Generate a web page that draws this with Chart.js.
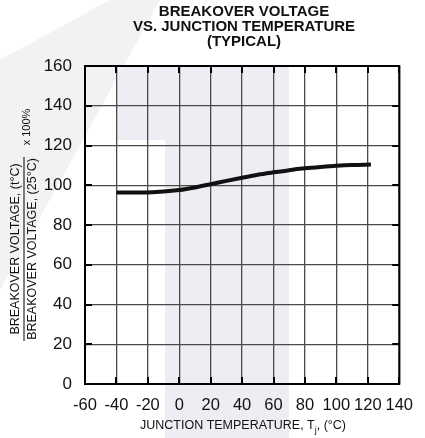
<!DOCTYPE html>
<html>
<head>
<meta charset="utf-8">
<script src="https://cdn.jsdelivr.net/npm/chart.js@4/dist/chart.umd.min.js"></script>
<style>
  html, body { margin: 0; padding: 0; background: #fff; }
  #wrap { width: 425px; height: 438px; position: relative; }
</style>
</head>
<body>
<div id="wrap"><canvas id="chart" width="425" height="438"></canvas></div>
<script>
// data
const temps = [-40, -30, -20, -10, 0, 10, 20, 30, 40, 50, 60, 70, 80, 90, 100, 110, 122];
const ratio = [96.3, 96.3, 96.4, 96.8, 97.6, 98.9, 100.5, 102.2, 103.8, 105.3, 106.5, 107.6, 108.5, 109.2, 109.8, 110.2, 110.4];
const xTicks = [-60, -40, -20, 0, 20, 40, 60, 80, 100, 120, 140];
const yTicks = [0, 20, 40, 60, 80, 100, 120, 140, 160];
const titleLines = ['BREAKOVER VOLTAGE', 'VS. JUNCTION TEMPERATURE', '(TYPICAL)'];

const FONT = 'Arial, "Liberation Sans", sans-serif';

// faint watermark shapes behind everything
const watermark = {
  id: 'watermark',
  beforeDraw(chart) {
    const c = chart.ctx;
    c.save();
    c.fillStyle = '#eceef3';
    c.fillRect(165, 140, 124, 298);
    c.fillRect(116, 66, 173, 74);
    c.fillStyle = '#f1f2f4';
    c.beginPath();
    c.moveTo(0, 60); c.lineTo(110, 0); c.lineTo(160, 0); c.lineTo(0, 290);
    c.closePath(); c.fill();
    c.restore();
  }
};

// frame, inner tick marks, titles
const decor = {
  id: 'decor',
  afterDraw(chart) {
    const c = chart.ctx;
    const a = chart.chartArea;
    const xs = chart.scales.x, ys = chart.scales.y;
    c.save();
    c.strokeStyle = '#000';
    c.lineWidth = 2;
    c.strokeRect(a.left, a.top, a.right - a.left, a.bottom - a.top);
    c.beginPath();
    xTicks.forEach(v => {
      const px = Math.round(xs.getPixelForValue(v));
      c.moveTo(px, a.bottom); c.lineTo(px, a.bottom - 7);
      c.moveTo(px, a.top); c.lineTo(px, a.top + 7);
    });
    yTicks.forEach(v => {
      const py = Math.round(ys.getPixelForValue(v));
      c.moveTo(a.left, py); c.lineTo(a.left + 7, py);
      c.moveTo(a.right, py); c.lineTo(a.right - 7, py);
    });
    c.stroke();

    c.fillStyle = '#111';
    c.textAlign = 'center';
    c.textBaseline = 'middle';
    c.font = 'bold 15px ' + FONT;
    titleLines.forEach((t, i) => c.fillText(t, 244, 12 + i * 15));

    // x axis title with subscript j
    const p1 = 'JUNCTION TEMPERATURE, T', p2 = 'j', p3 = ', (°C)';
    c.font = '12.5px ' + FONT;
    const w1 = c.measureText(p1).width, w3 = c.measureText(p3).width;
    c.font = '9px ' + FONT;
    const w2 = c.measureText(p2).width;
    const x0 = 243 - (w1 + w2 + w3) / 2;
    c.textAlign = 'left';
    c.font = '12.5px ' + FONT;
    c.fillText(p1, x0, 426);
    c.font = '9px ' + FONT;
    c.fillText(p2, x0 + w1, 431);
    c.font = '12.5px ' + FONT;
    c.fillText(p3, x0 + w1 + w2, 426);

    // rotated y label as a fraction
    c.save();
    c.translate(24, 249);
    c.rotate(-Math.PI / 2);
    c.textAlign = 'center';
    c.font = '12.5px ' + FONT;
    c.fillText('BREAKOVER VOLTAGE, (t°C)', 0, -8);
    c.fillText('BREAKOVER VOLTAGE, (25°C)', 0, 9);
    c.lineWidth = 1;
    c.beginPath();
    c.moveTo(-92, 0); c.lineTo(92, 0);
    c.stroke();
    c.font = '11px ' + FONT;
    c.fillText('x 100%', 122, 3);
    c.restore();

    c.restore();
  }
};

new Chart(document.getElementById('chart'), {
  type: 'scatter',
  data: {
    datasets: [{
      data: temps.map((t, i) => ({ x: t, y: ratio[i] })),
      showLine: true,
      borderColor: '#111',
      borderWidth: 4,
      pointRadius: 0,
      cubicInterpolationMode: 'monotone',
      borderCapStyle: 'butt'
    }]
  },
  options: {
    responsive: false,
    animation: false,
    layout: { padding: { top: 66, right: 20, left: 0, bottom: 0 } },
    plugins: { legend: { display: false }, tooltip: { enabled: false } },
    scales: {
      x: {
        type: 'linear', min: -60, max: 140,
        afterBuildTicks: s => { s.ticks = xTicks.map(v => ({ value: v })); },
        afterFit: s => { s.height = 54; },
        grid: { color: '#4a4a4a', lineWidth: 1.3, drawTicks: false },
        border: { display: false },
        ticks: { color: '#111', font: { family: FONT, size: 16.5 }, padding: 12, maxRotation: 0, autoSkip: false }
      },
      y: {
        type: 'linear', min: 0, max: 160,
        afterBuildTicks: s => { s.ticks = yTicks.map(v => ({ value: v })); },
        afterFit: s => { s.width = 85; },
        grid: { color: '#4a4a4a', lineWidth: 1.3, drawTicks: false },
        border: { display: false },
        ticks: { color: '#111', font: { family: FONT, size: 17 }, padding: 13 }
      }
    }
  },
  plugins: [watermark, decor]
});
</script>
</body>
</html>
